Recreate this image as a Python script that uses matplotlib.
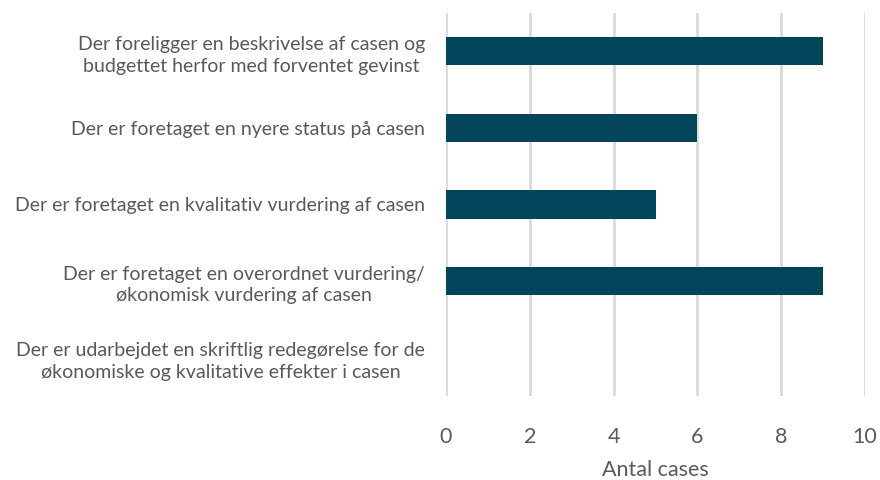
import matplotlib
matplotlib.use("Agg")
import matplotlib.pyplot as plt

categories = [
    "Der foreligger en beskrivelse af casen og\nbudgettet herfor med forventet gevinst",
    "Der er foretaget en nyere status på casen",
    "Der er foretaget en kvalitativ vurdering af casen",
    "Der er foretaget en overordnet vurdering/\nøkonomisk vurdering af casen",
    "Der er udarbejdet en skriftlig redegørelse for de\nøkonomiske og kvalitative effekter i casen",
]
values = [9, 6, 5, 9, 0]
xticks = [0, 2, 4, 6, 8, 10]
xlabel = "Antal cases"

plt.rcParams['font.family'] = ['Lato', 'DejaVu Sans']
text_color = "#595959"

fig = plt.figure(figsize=(8.8, 4.8), dpi=100)
ax = fig.add_axes([446/880, 1 - 396/480, (865-446)/880, (396-13)/480])

y = list(range(len(categories)))
ax.barh(y, values, height=0.37, color="#00455A", zorder=3)
ax.set_ylim(len(categories) - 0.5, -0.5)
ax.set_xlim(0, 10)
ax.set_xticks(xticks)
ax.set_xticklabels([str(t) for t in xticks], fontsize=15.5, color=text_color)
ax.set_yticks(y)
ax.set_yticklabels(categories, fontsize=14, color=text_color, ha="right",
                   multialignment="center", linespacing=1.35)
ax.tick_params(axis="y", length=0, pad=15)
ax.tick_params(axis="x", length=0, pad=22)
ax.grid(axis="x", color="#d9d9d9", linewidth=2, zorder=0)
for s in ax.spines.values():
    s.set_visible(False)
ax.set_xlabel(xlabel, fontsize=15.5, color=text_color, labelpad=10)

fig.savefig("out.png", dpi=100)
